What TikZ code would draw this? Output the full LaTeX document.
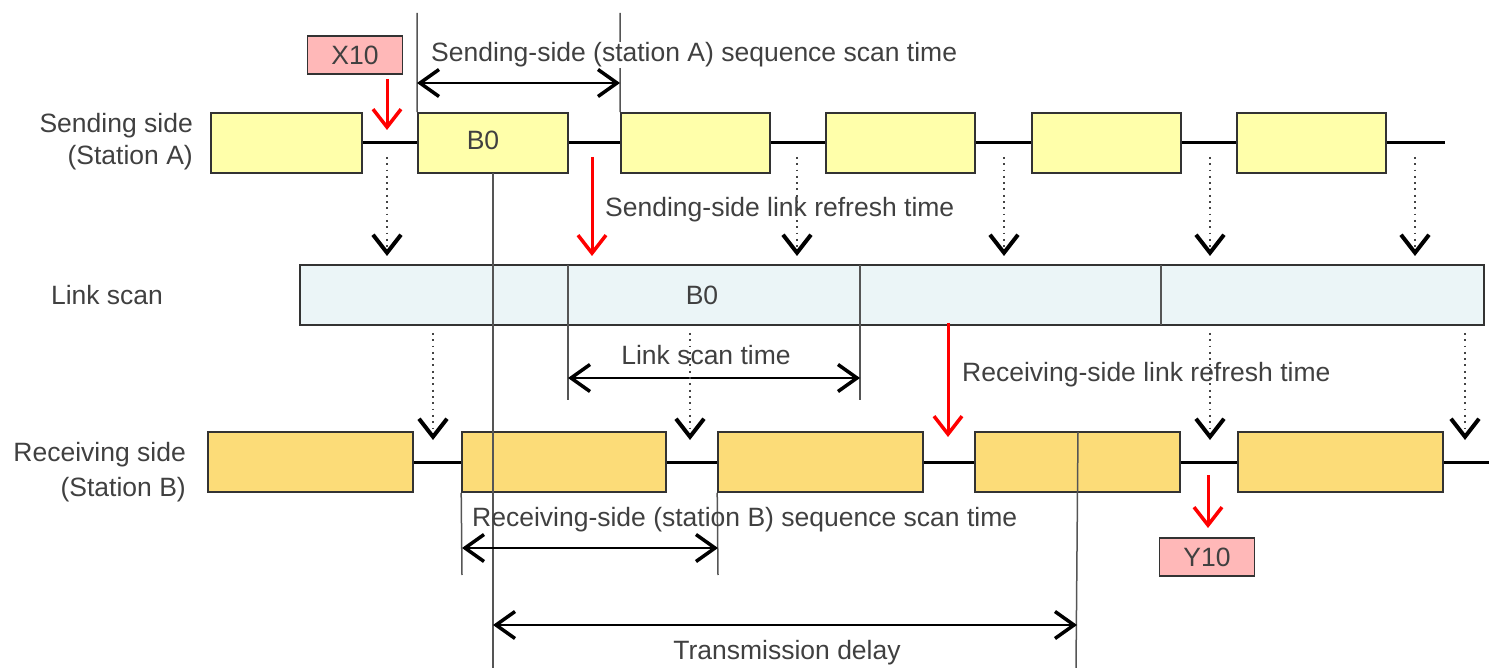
\documentclass[tikz,border=0pt]{standalone}
\usepackage{fontspec}
\setmainfont{Liberation Sans}
\usetikzlibrary{arrows.meta}
\definecolor{txt}{HTML}{404040}
\definecolor{sendfill}{HTML}{FFFFAA}
\definecolor{recvfill}{HTML}{FCDC78}
\definecolor{linkfill}{HTML}{EBF5F7}
\definecolor{xfill}{HTML}{FFB8B8}
\definecolor{frame}{HTML}{333333}
\definecolor{guide}{HTML}{555555}
\definecolor{dotcol}{HTML}{444444}
\tikzset{
  txtstyle/.style={text=txt,font=\fontsize{26.5}{32}\selectfont,inner sep=2pt},
  sbox/.style={draw=frame,line width=1.6pt,fill=sendfill,inner sep=0pt,minimum height=60pt},
  rbox/.style={draw=frame,line width=1.6pt,fill=recvfill,inner sep=0pt,minimum height=60pt},
  ioboxstyle/.style={draw=frame,line width=1.6pt,fill=xfill,inner sep=0pt,minimum height=38pt,minimum width=95pt,text=txt,font=\fontsize{26.5}{32}\selectfont},
  timeline/.style={line width=3pt,black},
  guideline/.style={line width=1.5pt,guide},
  dimtip/.tip={Straight Barb[length=19pt,width=27pt,line width=3.5pt,sep=0pt]},
  dimarrow/.style={line width=1.6pt,black,dimtip-dimtip},
  redarrow/.style={line width=3pt,red,-{Straight Barb[length=18pt,width=28pt,line width=3.5pt]}},
  dotarrow/.style={line width=1.8pt,dotcol,dash pattern=on 1.8pt off 4.5pt,-{Straight Barb[length=18pt,width=28pt,line width=4pt,sep=0pt,color=black]}},
}
\begin{document}
\begin{tikzpicture}[x=1pt,y=-1pt]
\useasboundingbox (0,0) rectangle (1489,668);

% ---------------- Sending side ----------------
\node[txtstyle,align=right,anchor=east] (slabel) at (195,142) {Sending side\\(Station A)};
\node[sbox,minimum width=151pt] (s1) at (286.5,143) {};
\node[sbox,minimum width=150pt] (s2) at (493,143) {};
\node[txtstyle] (sb0) at (483,140) {B0};
\node[sbox,minimum width=149pt] (s3) at (695.5,143) {};
\node[sbox,minimum width=149pt] (s4) at (900.5,143) {};
\node[sbox,minimum width=149pt] (s5) at (1106.5,143) {};
\node[sbox,minimum width=149pt] (s6) at (1311.5,143) {};
\coordinate (send-end) at (1445,143);
\draw[timeline] (s1.east) -- (s2.west);
\draw[timeline] (s2.east) -- (s3.west);
\draw[timeline] (s3.east) -- (s4.west);
\draw[timeline] (s4.east) -- (s5.west);
\draw[timeline] (s5.east) -- (s6.west);
\draw[timeline] (s6.east) -- (send-end);

% X10
\node[ioboxstyle] (x10) at (355,55) {X10};
\coordinate (x10-tip) at (387,130);
\draw[redarrow] (x10.south -| x10-tip) ++(0,4) -- (x10-tip);

% sending-side sequence scan time
\coordinate (seqA-top1) at (417,13);
\coordinate (seqA-top2) at (620,13);
\draw[guideline] (seqA-top1) -- (s2.north west);
\draw[guideline] (seqA-top2) -- (s3.north west);
\node[txtstyle,anchor=west,fill=white,inner sep=1pt] (seqA-label) at (430,55) {Sending-side (station A) sequence scan time};
\coordinate (seqA-l) at (417,83);
\coordinate (seqA-r) at (620,83);
\draw[dimarrow] (seqA-l) -- (seqA-r);

% ---------------- Link scan ----------------
\node[txtstyle] (llabel) at (107,295) {Link scan};
\node[draw=frame,line width=1.6pt,fill=linkfill,inner sep=0pt,minimum width=1184pt,minimum height=60pt] (link) at (892,295) {};
\coordinate (d1t) at (568,265); \coordinate (d1b) at (568,325);
\coordinate (d2t) at (860,265); \coordinate (d2b) at (860,325);
\coordinate (d3t) at (1161,265); \coordinate (d3b) at (1161,325);
\draw[guideline] (d2t) -- (d2b);
\draw[guideline] (d3t) -- (d3b);
\node[txtstyle] (lb0) at (702,295) {B0};

% sending-side link refresh time
\coordinate (srf-s) at (592,157);
\coordinate (srf-e) at (592,256);
\draw[redarrow] (srf-s) -- (srf-e);
\node[txtstyle,anchor=west] (srf-label) at (603,210) {Sending-side link refresh time};

% dotted arrows sending -> link
\foreach \i/\xx in {1/387,2/797,3/1004,4/1210,5/1415}{
  \coordinate (sd\i) at (\xx,157);
  \coordinate (se\i) at (\xx,256);
  \draw[dotarrow] (sd\i) -- (se\i);
}

% link scan time
\coordinate (lst-b1) at (568,400);
\coordinate (lst-b2) at (860,400);
\draw[guideline] (d1t) -- (lst-b1);
\draw[guideline] (d2b) -- (lst-b2);
\coordinate (lst-l) at (568,378);
\coordinate (lst-r) at (860,378);
\draw[dimarrow] (lst-l) -- (lst-r);
\node[txtstyle] (lst-label) at (706,355) {Link scan time};

% receiving-side link refresh time
\coordinate (rrf-s) at (948,323);
\coordinate (rrf-e) at (948,437);
\draw[redarrow] (rrf-s) -- (rrf-e);
\node[txtstyle,anchor=west] (rrf-label) at (960,375) {Receiving-side link refresh time};

% dotted arrows link -> receiving
\foreach \i/\xx in {1/433,2/690,3/1210,4/1465}{
  \coordinate (ld\i) at (\xx,333);
  \coordinate (le\i) at (\xx,440);
  \draw[dotarrow] (ld\i) -- (le\i);
}

% ---------------- Receiving side ----------------
\node[txtstyle,align=right,anchor=east,font=\fontsize{26.5}{35}\selectfont] (rlabel) at (188,472) {Receiving side\\(Station B)};
\node[rbox,minimum width=205pt] (r1) at (310.5,462) {};
\node[rbox,minimum width=204pt] (r2) at (564,462) {};
\node[rbox,minimum width=205pt] (r3) at (820.5,462) {};
\node[rbox,minimum width=205pt] (r4) at (1077.5,462) {};
\node[rbox,minimum width=205pt] (r5) at (1340.5,462) {};
\coordinate (recv-end) at (1489,462);
\draw[timeline] (r1.east) -- (r2.west);
\draw[timeline] (r2.east) -- (r3.west);
\draw[timeline] (r3.east) -- (r4.west);
\draw[timeline] (r4.east) -- (r5.west);
\draw[timeline] (r5.east) -- (recv-end);

% Y10
\node[ioboxstyle] (y10) at (1207,557) {Y10};
\coordinate (y10-s) at (1208,475);
\coordinate (y10-tip) at (1208,528);
\draw[redarrow] (y10-s) -- (y10-tip);

% transmission delay guides
\coordinate (td-top) at (493,173);
\coordinate (td-bot) at (493,668);
\coordinate (td2-top) at (1078,432);
\coordinate (td2-bot) at (1076,668);
\draw[guideline] (td-top) -- (td-bot);
\draw[guideline] (td2-top) -- (td2-bot);
\coordinate (td-l) at (493,625);
\coordinate (td-r) at (1077,625);
\draw[dimarrow] (td-l) -- (td-r);
\node[txtstyle] (td-label) at (787,653) {Transmission delay};

% receiving-side sequence scan time
\coordinate (seqB-b1) at (462,575);
\coordinate (seqB-b2) at (718,575);
\draw[guideline] (r2.south west) -- (seqB-b1);
\draw[guideline] (r3.south west) -- (seqB-b2);
\coordinate (seqB-l) at (462,548);
\coordinate (seqB-r) at (718,548);
\draw[dimarrow] (seqB-l) -- (seqB-r);
\node[txtstyle,anchor=west] (seqB-label) at (470,520) {Receiving-side (station B) sequence scan time};
\end{tikzpicture}
\end{document}
